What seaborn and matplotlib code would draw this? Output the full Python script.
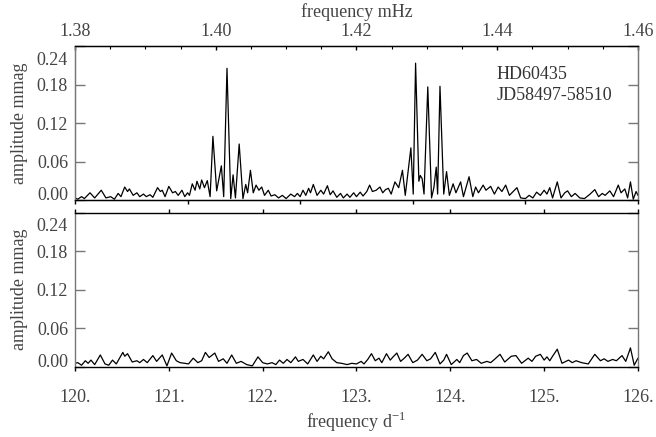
import matplotlib
matplotlib.use('Agg')
import matplotlib.pyplot as plt
import matplotlib.transforms as mtransforms
import seaborn as sns
import numpy as np
import pandas as pd

# amplitude spectrum, data set JD58497-58510 (top) and residuals (bottom)
top_freq = [120.00, 120.03, 120.07, 120.10, 120.16, 120.21, 120.28, 120.33, 120.38, 120.42,
            120.46, 120.49, 120.53, 120.56, 120.58, 120.62, 120.66, 120.69, 120.73, 120.76,
            120.80, 120.83, 120.88, 120.91, 120.93, 120.96, 121.00, 121.04, 121.07, 121.10,
            121.14, 121.17, 121.20, 121.22, 121.25, 121.28, 121.30, 121.33, 121.35, 121.38,
            121.41, 121.44, 121.47, 121.51, 121.56, 121.585, 121.62, 121.66, 121.685, 121.71,
            121.75, 121.79, 121.82, 121.84, 121.87, 121.90, 121.93, 121.96, 121.99, 122.02,
            122.06, 122.09, 122.13, 122.17, 122.21, 122.25, 122.30, 122.34, 122.37, 122.40,
            122.43, 122.46, 122.49, 122.51, 122.54, 122.58, 122.62, 122.65, 122.69, 122.72,
            122.75, 122.79, 122.83, 122.86, 122.90, 122.93, 122.97, 123.00, 123.04, 123.07,
            123.11, 123.14, 123.17, 123.21, 123.25, 123.28, 123.31, 123.34, 123.37, 123.41,
            123.45, 123.49, 123.52, 123.58, 123.605, 123.63, 123.665, 123.68, 123.70, 123.72,
            123.76, 123.80, 123.825, 123.85, 123.865, 123.89, 123.93, 123.96, 123.99, 124.03,
            124.06, 124.11, 124.14, 124.20, 124.24, 124.27, 124.30, 124.35, 124.38, 124.43,
            124.47, 124.51, 124.55, 124.59, 124.63, 124.71, 124.75, 124.80, 124.84, 124.88,
            124.92, 124.96, 125.00, 125.03, 125.06, 125.09, 125.14, 125.18, 125.22, 125.25,
            125.29, 125.33, 125.38, 125.43, 125.49, 125.54, 125.58, 125.62, 125.65, 125.70,
            125.74, 125.79, 125.82, 125.86, 125.89, 125.92, 125.95, 125.98, 126.00]
top_amp = [0.004, 0.002, 0.006, 0.003, 0.012, 0.004, 0.016, 0.004, 0.006, 0.002,
           0.011, 0.006, 0.021, 0.014, 0.018, 0.008, 0.012, 0.006, 0.010, 0.006,
           0.009, 0.005, 0.020, 0.014, 0.016, 0.006, 0.022, 0.012, 0.014, 0.008,
           0.016, 0.006, 0.012, 0.008, 0.026, 0.016, 0.030, 0.018, 0.032, 0.020,
           0.031, 0.006, 0.100, 0.015, 0.054, 0.006, 0.206, 0.003, 0.040, 0.004,
           0.088, 0.003, 0.025, 0.012, 0.047, 0.012, 0.024, 0.016, 0.021, 0.008,
           0.016, 0.007, 0.009, 0.004, 0.008, 0.003, 0.010, 0.006, 0.011, 0.006,
           0.016, 0.008, 0.019, 0.012, 0.025, 0.008, 0.016, 0.010, 0.023, 0.009,
           0.015, 0.005, 0.011, 0.004, 0.010, 0.005, 0.012, 0.006, 0.013, 0.007,
           0.014, 0.024, 0.014, 0.016, 0.021, 0.012, 0.017, 0.019, 0.010, 0.029,
           0.020, 0.047, 0.008, 0.082, 0.010, 0.214, 0.030, 0.039, 0.034, 0.010,
           0.177, 0.004, 0.020, 0.052, 0.010, 0.178, 0.010, 0.045, 0.008, 0.026,
           0.012, 0.029, 0.006, 0.037, 0.006, 0.021, 0.012, 0.024, 0.016, 0.022,
           0.010, 0.021, 0.014, 0.024, 0.008, 0.020, 0.004, 0.003, 0.008, 0.004,
           0.013, 0.008, 0.016, 0.010, 0.020, 0.004, 0.029, 0.004, 0.012, 0.015,
           0.006, 0.011, 0.004, 0.003, 0.010, 0.017, 0.006, 0.011, 0.008, 0.015,
           0.006, 0.024, 0.012, 0.018, 0.004, 0.029, 0.002, 0.014, 0.008]

bot_freq = [120.00, 120.03, 120.07, 120.11, 120.14, 120.17, 120.21, 120.27, 120.32, 120.36,
            120.40, 120.44, 120.51, 120.53, 120.56, 120.61, 120.66, 120.69, 120.73, 120.77,
            120.83, 120.87, 120.93, 120.98, 121.03, 121.08, 121.12, 121.17, 121.21, 121.26,
            121.31, 121.35, 121.39, 121.43, 121.49, 121.53, 121.58, 121.62, 121.67, 121.72,
            121.77, 121.83, 121.89, 121.95, 122.00, 122.05, 122.10, 122.14, 122.18, 122.22,
            122.26, 122.30, 122.35, 122.38, 122.43, 122.48, 122.54, 122.58, 122.62, 122.65,
            122.70, 122.74, 122.79, 122.84, 122.90, 122.95, 123.00, 123.05, 123.08, 123.12,
            123.16, 123.20, 123.24, 123.27, 123.32, 123.36, 123.39, 123.43, 123.47, 123.51,
            123.55, 123.60, 123.65, 123.70, 123.75, 123.79, 123.84, 123.89, 123.93, 123.96,
            124.01, 124.07, 124.10, 124.14, 124.18, 124.23, 124.28, 124.33, 124.39, 124.43,
            124.47, 124.53, 124.58, 124.65, 124.70, 124.76, 124.83, 124.87, 124.91, 124.96,
            125.00, 125.03, 125.06, 125.09, 125.14, 125.19, 125.26, 125.30, 125.34, 125.40,
            125.47, 125.54, 125.60, 125.64, 125.68, 125.73, 125.77, 125.83, 125.87, 125.92,
            125.96, 126.00]
bot_amp = [0.005, 0.006, 0.002, 0.009, 0.005, 0.010, 0.003, 0.018, 0.004, 0.002,
           0.010, 0.004, 0.022, 0.016, 0.020, 0.007, 0.009, 0.006, 0.011, 0.006,
           0.017, 0.008, 0.018, 0.001, 0.021, 0.009, 0.006, 0.005, 0.004, 0.013,
           0.006, 0.009, 0.022, 0.014, 0.021, 0.008, 0.012, 0.005, 0.018, 0.005,
           0.008, 0.003, 0.001, 0.015, 0.006, 0.004, 0.006, 0.003, 0.010, 0.005,
           0.011, 0.006, 0.015, 0.008, 0.011, 0.004, 0.018, 0.008, 0.016, 0.012,
           0.023, 0.012, 0.006, 0.005, 0.003, 0.005, 0.004, 0.008, 0.004, 0.011,
           0.020, 0.009, 0.013, 0.006, 0.020, 0.010, 0.015, 0.021, 0.008, 0.013,
           0.019, 0.006, 0.010, 0.019, 0.009, 0.012, 0.022, 0.004, 0.010, 0.019,
           0.003, 0.011, 0.006, 0.017, 0.021, 0.009, 0.011, 0.005, 0.008, 0.006,
           0.011, 0.019, 0.007, 0.016, 0.017, 0.005, 0.013, 0.008, 0.016, 0.019,
           0.010, 0.015, 0.009, 0.016, 0.027, 0.005, 0.010, 0.006, 0.009, 0.006,
           0.004, 0.019, 0.009, 0.012, 0.008, 0.011, 0.009, 0.017, 0.008, 0.029,
           0.002, 0.013]

y_ticks = [0.00, 0.06, 0.12, 0.18, 0.24]
d_ticks = [120, 121, 122, 123, 124, 125, 126]
mhz_ticks = [1.38, 1.40, 1.42, 1.44, 1.46]
star_label = 'HD60435\nJD58497-58510'

sns.set_style('ticks')
plt.rcParams['font.family'] = ['Liberation Serif', 'DejaVu Serif']
plt.rcParams['mathtext.fontset'] = 'custom'
plt.rcParams['mathtext.rm'] = 'Liberation Serif'

txt_col = '#444444'
side_col = '#777777'

fig = plt.figure(figsize=(6.56, 4.37), dpi=100)
ax1 = fig.add_axes([0.1143, 0.5412, 0.8582, 0.3524])
ax2 = fig.add_axes([0.1143, 0.1613, 0.8582, 0.3524])

top_df = pd.DataFrame({'freq': top_freq, 'amp': top_amp})
bot_df = pd.DataFrame({'freq': bot_freq, 'amp': bot_amp})
sns.lineplot(data=top_df, x='freq', y='amp', ax=ax1, color='black', lw=0.9, sort=False)
sns.lineplot(data=bot_df, x='freq', y='amp', ax=ax2, color='black', lw=0.9, sort=False)


def style_frame(ax):
    ax.set_xlim(120, 126)
    ax.set_ylim(0, 0.24)
    ax.set_xlabel('')
    ax.set_ylabel('amplitude mmag', fontsize=13, color=txt_col, labelpad=6)
    for s in ['top', 'bottom']:
        ax.spines[s].set_color('black')
        ax.spines[s].set_linewidth(1.0)
    for s in ['left', 'right']:
        ax.spines[s].set_color(side_col)
        ax.spines[s].set_linewidth(1.0)
    ax.set_yticks(y_ticks)
    ax.set_yticklabels(['%.2f' % v for v in y_ticks])
    ax.tick_params(axis='y', direction='in', length=7, width=1.0, color=side_col,
                   left=True, right=True, labelsize=13, labelcolor=txt_col, pad=5)
    # end labels are pulled inside the frame
    ticks = ax.yaxis.get_major_ticks()
    ticks[0].label1.set_verticalalignment('baseline')
    lab = ticks[-1].label1
    lab.set_verticalalignment('top')
    lab.set_transform(lab.get_transform() +
                      mtransforms.ScaledTranslation(0, -4 / 72, fig.dpi_scale_trans))


style_frame(ax1)
style_frame(ax2)

# top panel: unlabeled outward ticks on both frame edges
ax1.set_xticks(np.linspace(120, 126, 6))
ax1.tick_params(axis='x', direction='out', length=3, width=1.0, color='black',
                top=True, bottom=True, labelbottom=False, labeltop=False)

# top axis in mHz
axm = ax1.twiny()
axm.set_xlim(1.38, 1.46)
axm.set_xticks(mhz_ticks)
axm.set_xticks(np.arange(1.38, 1.4601, 0.005), minor=True)
axm.set_xticklabels(['%.2f' % v for v in mhz_ticks])
axm.tick_params(axis='x', which='major', direction='in', length=3, width=1.0,
                color='black', labelsize=13, labelcolor=txt_col, pad=5)
axm.tick_params(axis='x', which='minor', direction='in', length=2, width=0.8, color='black')
axm.spines['top'].set_color('black')
axm.spines['bottom'].set_color('black')
axm.spines['left'].set_color(side_col)
axm.spines['right'].set_color(side_col)
axm.set_xlabel('frequency mHz', fontsize=13, color=txt_col, labelpad=4)

ax1.text(0.749, 0.75, star_label, transform=ax1.transAxes, fontsize=13,
         color='#333333', ha='left', va='center', linespacing=1.35)

# bottom panel: d^-1 axis
ax2.set_xticks(d_ticks)
ax2.set_xticklabels(['%d.' % v for v in d_ticks])
ax2.tick_params(axis='x', direction='out', length=3, width=1.0, color='black',
                top=True, bottom=True, labelsize=13, labelcolor=txt_col, pad=13)
ax2.set_xlabel(r'frequency d$^{\mathregular{-1}}$', fontsize=13, color=txt_col, labelpad=3)

fig.savefig('out.png', dpi=100)
